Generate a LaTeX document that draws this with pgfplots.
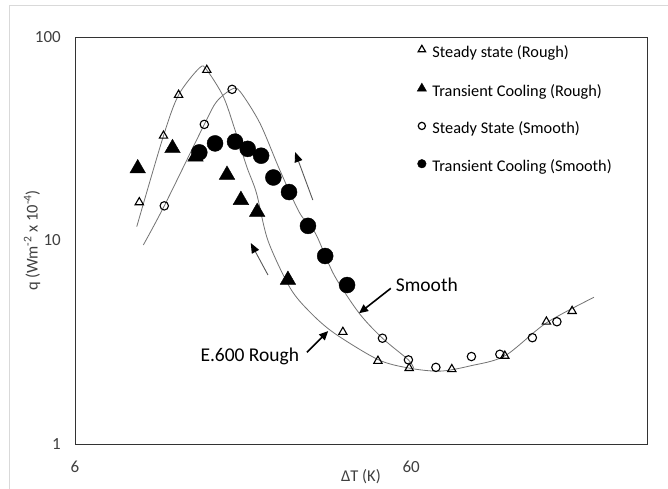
\documentclass[border=0pt]{standalone}
\usepackage{pgfplots}
\pgfplotsset{compat=1.18}
\usepackage{fontspec}
\setmainfont{Carlito}
\usetikzlibrary{arrows.meta}
\begin{document}
\begin{tikzpicture}[x=1bp,y=1bp]
\useasboundingbox (0,0) rectangle (668,489);
\fill[white] (0,0) rectangle (668,489);
\draw[black!15, line width=1.5bp] (9.5,0) -- (9.5,483.5) -- (668,483.5);
\begin{axis}[
  at={(75bp,45bp)}, anchor=south west,
  scale only axis, width=572bp, height=407bp,
  xmode=log, ymode=log,
  xmin=6, xmax=302, ymin=1, ymax=100,
  xtick={6,60}, xticklabels={6,60},
  ytick={1,10,100}, yticklabels={1,10,100},
  minor xtick={}, minor ytick={},
  tick style={draw=none},
  axis line style={black!80, line width=0.9bp},
  ticklabel style={font=\fontsize{17bp}{20bp}\selectfont, text=black!75},
  yticklabel style={anchor=east, inner sep=0pt, xshift=-14bp},
  xticklabel style={anchor=center, inner sep=0pt, yshift=-23bp},
  xlabel={ΔT (K)},
  ylabel={q (Wm\textsuperscript{-2} x 10\textsuperscript{-4})},
  label style={font=\fontsize{16.5bp}{19bp}\selectfont, text=black!75},
  xlabel style={at={(axis description cs:0.5,-0.081)}, anchor=center, inner sep=0pt},
  ylabel style={at={(axis description cs:-0.075,0.5)}, anchor=center, inner sep=0pt},
  legend style={at={(axis description cs:0.598,0.980)}, anchor=north west,
    draw=none, fill=none, inner sep=0pt, row sep=21.5bp,
    font=\fontsize{16.3bp}{19bp}\selectfont,
    nodes={inner sep=0pt, text height=12bp, text depth=4bp},
    /tikz/every odd column/.append style={column sep=6bp}},
  legend cell align=left,
  legend image code/.code={\draw[#1] plot coordinates {(0bp,4bp)};},
]
% fitted curves
\addplot[smooth, black!55, line width=0.8bp, forget plot] coordinates {
(9.16,11.7) (11.0,32.7) (12.2,51.9) (14.1,70.7) (14.8,68.8) (16.58,50.9)
(17.96,34.9) (19.45,23.1) (20.8,17.1) (22.5,10.0) (26.2,5.84) (30.0,4.45)
(35.4,3.51) (47.8,2.6) (59.2,2.36) (73.2,2.28) (89.9,2.42) (114,2.71)
(151.3,3.93) (210,5.26)};
\addplot[smooth, black!55, line width=0.8bp, forget plot] coordinates {
(9.58,9.5) (11.06,14.8) (14.55,37.2) (15.83,48.1) (17.6,55.5) (18.6,53.9)
(21.3,37.7) (24.4,22.2) (28.0,13.6) (31.1,10.9) (35.4,6.77) (42.0,4.4)
(49.3,3.31) (58.9,2.59) (61,2.36)};
% arrows and annotations
\draw[black!65, line width=0.9bp, -{Triangle[length=10bp,width=8bp,color=black]}] (axis cs:30.6,15.8) -- (axis cs:27.1,27.2);
\draw[black!65, line width=0.9bp, -{Triangle[length=10bp,width=8bp,color=black]}] (axis cs:22.5,6.77) -- (axis cs:20.0,9.72);
\draw[black, line width=1.6bp, -{Triangle[length=9bp,width=8bp]}] (axis cs:52.2,5.82) -- (axis cs:42.0,4.39);
\draw[black, line width=1.6bp, -{Triangle[length=9bp,width=8bp]}] (axis cs:29.4,2.82) -- (axis cs:34.0,3.59);
\node[anchor=west, inner sep=0pt, font=\fontsize{19.5bp}{22bp}\selectfont] at (axis cs:54.0,6.09) {Smooth};
\node[anchor=east, inner sep=0pt, font=\fontsize{19.5bp}{22bp}\selectfont] at (axis cs:27.9,2.69) {E.600 Rough};
% data
\addplot[only marks, mark=triangle, mark size=4.8bp, mark options={line width=1.1bp}, black, forget plot] coordinates {
(14.8,68.8) (12.2,51.9) (11.0,32.7) (9.32,15.4) (37.6,3.55) (47.8,2.56)
(59.2,2.36) (79.3,2.33) (114,2.71) (151.6,3.99) (180.8,4.5)};
\addplot[only marks, mark=triangle*, mark size=9bp, black, forget plot] coordinates {
(9.22,22.6) (11.7,28.4) (13.7,25.8) (17.0,21.0) (18.7,15.8) (20.9,13.8) (25.8,6.4)};
\addplot[only marks, mark=o, mark size=4.2bp, mark options={line width=1.1bp}, black, forget plot] coordinates {
(17.6,55.3) (14.55,37.2) (11.06,14.8) (49.3,3.31) (58.9,2.59) (71.1,2.38)
(90.7,2.69) (110.2,2.76) (137.7,3.33) (162.9,3.99)};
\addplot[only marks, mark=*, mark size=8bp, black, forget plot] coordinates {
(14.06,27.1) (15.66,30.0) (17.96,30.6) (19.59,28.2) (21.47,26.1) (23.35,20.4)
(26.0,17.3) (29.6,11.8) (33.3,8.39) (38.7,6.04)};
% legend
\addlegendimage{only marks, mark=triangle, mark size=4.3bp, mark options={line width=1.2bp}, black}
\addlegendentry{Steady state (Rough)}
\addlegendimage{only marks, mark=triangle*, mark size=5.3bp, black}
\addlegendentry{Transient Cooling (Rough)}
\addlegendimage{only marks, mark=o, mark size=3.6bp, mark options={line width=1.2bp}, black}
\addlegendentry{Steady State (Smooth)}
\addlegendimage{only marks, mark=*, mark size=4.3bp, black}
\addlegendentry{Transient Cooling (Smooth)}
\end{axis}
\end{tikzpicture}
\end{document}
